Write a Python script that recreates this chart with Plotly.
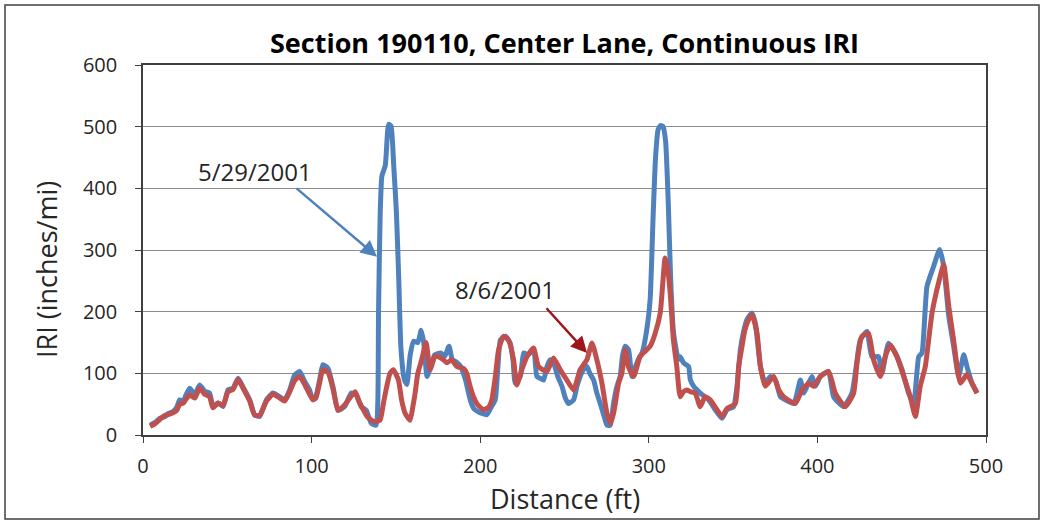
import plotly.graph_objects as go

# ---- data: 5/29/2001 ----
dist_0529 = [4.2, 7, 9.9, 13, 15, 17.8, 20, 21.8, 24, 25.5, 27.7, 30.7, 33.6, 36.6, 39.5, 41.5, 44.5, 47.5, 50.4, 53.4,
             56.4, 59.3, 63.3, 66.2, 69.2, 73.2, 77.1, 81.1, 84, 87, 89.9, 92.9, 95.9, 98.8, 100.8, 102.5, 104.8, 106.7,
             109.7, 112.7, 115.6, 119.6, 123.5, 126.5, 129.4, 132.4, 135.4, 138.3, 139.3, 139.7, 140.7, 141.7, 143.7,
             145.7, 147.1, 148.7, 150.3, 151.7, 153, 155, 156.5, 158.5, 160.5, 163, 165, 166.5, 168.5, 170.5, 173,
             176.5, 179, 181.5, 183.5, 186, 188.4, 191.3, 194.3, 196.5, 198.6, 201, 203.9, 206.5, 208.9, 210.5, 212,
             214.9, 217.8, 219.5, 220.8, 223.8, 225.8, 228.5, 231.7, 233.6, 235.5, 237.6, 239.5, 241.5, 243.5, 246,
             248.5, 250.5, 252.4, 255.4, 257.5, 259.3, 261, 263.3, 265, 267.3, 269, 271.2, 273, 275.2, 277.2, 279,
             281.1, 283, 284.5, 286, 288, 290, 292, 294, 296, 298.8, 300.8, 302.5, 304, 305.5, 307, 308.5, 310, 311.5,
             313, 314.7, 317.6, 318.6, 320.6, 323.6, 324.6, 326.6, 330.5, 335.5, 339.4, 343.4, 346.4, 350.3, 352.3,
             354.3, 356, 358.2, 361.2, 363.2, 366.2, 369.1, 372.1, 375.1, 378.1, 381, 386, 389.9, 391.9, 394, 396.8,
             398.8, 401.8, 406.6, 409.6, 415.5, 420.5, 423, 425.4, 429.4, 432.3, 436.3, 438.3, 442.2, 446.2, 450.2,
             454.1, 457.1, 460.1, 462, 465, 469, 472.5, 474.9, 477.9, 480.8, 483.8, 486.8, 488.7, 491.7, 494.7]
iri_0529 = [16, 20, 27, 30, 35, 38, 45, 57, 55, 65, 76, 66, 81, 71, 68, 46, 52, 46, 73, 76,
            92, 78, 57, 33, 30, 57, 68, 62, 57, 73, 97, 103, 87, 73, 57, 62, 90, 114,
            108, 78, 40, 46, 68, 65, 46, 40, 19, 16, 57, 198, 361, 420, 437,
            504, 501, 437, 361, 252, 140, 90, 82, 130, 152, 150, 170, 150, 95, 110, 130,
            133, 128, 144, 122, 118, 111, 89, 55, 42, 38, 35, 33, 45, 57, 110, 154,
            160, 149, 120, 84, 95, 133, 130, 138, 95, 92, 89, 110, 122, 117, 95,
            79, 60, 51, 57, 80, 95, 105, 111, 100, 89, 70, 51, 35, 16, 16, 50,
            79, 95, 130, 144, 138, 95, 110, 124, 133, 171, 220, 350, 450, 495, 502, 500, 475, 380,
            250, 165, 122, 127, 117, 111, 90, 79, 68, 57, 41, 27, 41, 46, 79,
            138, 165, 187, 198, 181, 111, 84, 95, 89, 62, 57, 51, 89, 68, 80, 95,
            79, 95, 103, 62, 46, 68, 111, 154, 168, 127, 127, 100, 149, 133, 106,
            68, 51, 127, 133, 241, 274, 301, 274, 193, 144, 95, 130, 111, 84, 68]

# ---- data: 8/6/2001 ----
dist_0806 = [4.2, 7, 9.9, 13, 15, 17.8, 20, 21.8, 24, 25.5, 27.7, 30.7, 33.6, 36.6, 39.5, 41.5, 44.5, 47.5, 50.4, 53.4,
             56.4, 59.3, 63.3, 66.2, 69.2, 73.2, 77.1, 81.1, 84, 87, 89.9, 92.9, 95.9, 98.8, 100.8, 102.5, 104.8, 106.7,
             109.7, 112.7, 115.6, 117, 120, 125.8, 128, 130.7, 133, 136.7, 140.6, 142.5, 144.6, 146.5, 148.5, 151.5,
             153.5, 155.5, 158.4, 160, 161.4, 163, 165.3, 167.9, 170.3, 173.2, 175.2, 178.2, 180.2, 183.1, 186.1, 190,
             192, 194, 196, 198, 200, 202, 204.9, 206.9, 209, 210.9, 213.8, 216.8, 219.8, 221.7, 224.7, 227.7, 231.6,
             234.6, 239.5, 243.5, 247.4, 251.4, 255.4, 259.3, 263.3, 266.3, 269.2, 272.2, 275.2, 277.2, 279.1, 282.1,
             284, 286, 288, 291, 294.8, 297.5, 300.8, 303.8, 306.8, 309.7, 311.2, 312.7, 314.6, 316.6, 318.6, 320.5,
             322.5, 325, 327.5, 330.5, 333.4, 336.4, 340.4, 343.4, 346.4, 351.3, 353.3, 355.3, 357, 359.2, 361.2,
             364.2, 366.2, 369.1, 374.1, 377.1, 380, 386.9, 390.9, 394.9, 397.8, 401.8, 406.7, 410.6, 416.5, 421.5,
             423.5, 426.4, 430.3, 433.3, 437.3, 440.2, 443.2, 447.2, 451.2, 455.1, 458.1, 461, 464, 468, 471.9, 474.9,
             477.9, 480.8, 484.8, 488.7, 491.7, 494.7]
iri_0806 = [14, 18, 25, 32, 33, 36, 40, 50, 52, 58, 65, 60, 76, 66, 62, 44, 52, 48, 70, 74,
            90, 76, 55, 32, 32, 55, 66, 60, 55, 70, 88, 95, 82, 66, 57, 60, 85, 106,
            102, 75, 40, 42, 50, 70, 55, 41, 30, 22, 24, 50, 79, 100, 106, 89,
            55, 35, 24, 45, 68, 100, 122, 150, 106, 128, 127, 122, 117, 122, 111, 108,
            100, 79, 62, 51, 45, 41, 45, 57, 95, 138, 160, 154, 122, 81, 106, 127, 141,
            111, 103, 125, 106, 89, 73, 106, 122, 149, 122, 84, 35, 19, 35, 84,
            100, 138, 110, 95, 127, 135, 144, 165, 198, 287, 270, 230, 154, 111, 62, 70,
            73, 70, 68, 46, 62, 57, 41, 30, 43, 51, 111, 144, 170, 187, 195,
            165, 111, 79, 95, 73, 62, 51, 73, 84, 79, 95, 103, 68, 46, 68,
            117, 160, 165, 122, 95, 127, 146, 127, 95, 62, 30, 79, 111, 198, 247, 276,
            209, 154, 84, 98, 84, 68]

x_ticks = [0, 100, 200, 300, 400, 500]
y_ticks = [0, 100, 200, 300, 400, 500, 600]

BLUE = "#4F81BD"
RED = "#C0504D"
FONT = "Open Sans"
TXT = "#262626"

fig = go.Figure()
fig.add_trace(go.Scatter(x=dist_0529, y=iri_0529, mode="lines", name="5/29/2001",
                         line=dict(color=BLUE, width=5, shape="spline", smoothing=0.5)))
fig.add_trace(go.Scatter(x=dist_0806, y=iri_0806, mode="lines", name="8/6/2001",
                         line=dict(color=RED, width=5, shape="spline", smoothing=0.5)))

L, R, T, B = 143, 57, 65, 88
W, H = 1043, 523
pw, ph = W - L - R, H - T - B

fig.update_layout(
    width=W, height=H,
    margin=dict(l=L, r=R, t=T, b=B, pad=0),
    paper_bgcolor="white", plot_bgcolor="white",
    showlegend=False,
    font=dict(family=FONT, color=TXT),
    title=dict(text="<b>Section 190110, Center Lane, Continuous IRI</b>",
               x=(L + pw / 2) / W, xanchor="center", y=1 - 44 / H, yanchor="middle",
               font=dict(size=27, color="#000000", family=FONT)),
)
fig.update_xaxes(range=[0, 500], tickvals=x_ticks, showgrid=False, zeroline=False,
                 showline=True, linecolor="#404040", linewidth=1.5, mirror=True,
                 ticks="outside", ticklen=6, tickcolor="#404040", ticklabelstandoff=6,
                 tickfont=dict(size=20, color=TXT))
fig.update_yaxes(range=[0, 600], tickvals=y_ticks, showgrid=True, gridcolor="#8C8C8C", gridwidth=1,
                 zeroline=False, showline=True, linecolor="#404040", linewidth=1.5, mirror=True,
                 ticks="outside", ticklen=6, tickcolor="#404040", ticklabelstandoff=14,
                 tickfont=dict(size=20, color=TXT))

# axis titles
fig.add_annotation(text="Distance (ft)", xref="paper", yref="paper",
                   x=(565 - L) / pw, y=-(498 - T - ph) / ph, xanchor="center", yanchor="middle",
                   showarrow=False, font=dict(size=27, color=TXT))
fig.add_annotation(text="IRI (inches/mi)", xref="paper", yref="paper", textangle=-90,
                   x=(46 - L) / pw, y=(T + ph - 270) / ph, xanchor="center", yanchor="middle",
                   showarrow=False, font=dict(size=27, color=TXT))

# annotations with arrows
fig.add_annotation(x=138.8, y=289, ax=90.2, ay=402, xref="x", yref="y", axref="x", ayref="y",
                   text="", showarrow=True, arrowhead=2, arrowsize=1.3, arrowwidth=2.5, arrowcolor=BLUE)
fig.add_annotation(x=66.5, y=428, xref="x", yref="y", text="5/29/2001", showarrow=False,
                   font=dict(size=24, color=TXT))
fig.add_annotation(x=263.4, y=133, ax=238.5, ay=208, xref="x", yref="y", axref="x", ayref="y",
                   text="", showarrow=True, arrowhead=2, arrowsize=1.3, arrowwidth=2.5, arrowcolor="#A0151A")
fig.add_annotation(x=214.8, y=236, xref="x", yref="y", text="8/6/2001", showarrow=False,
                   font=dict(size=24, color=TXT))

# outer chart frame
fig.add_shape(type="rect", xref="paper", yref="paper",
              x0=(5 - L) / pw, x1=(1039 - L) / pw, y0=-(519 - T - ph) / ph, y1=(T + ph - 5) / ph,
              line=dict(color="#404040", width=1.5), fillcolor="rgba(0,0,0,0)", layer="below")

fig.write_html("out.html", config={"displayModeBar": False},
               post_script="document.body.style.margin='0';document.body.style.overflow='hidden';")
